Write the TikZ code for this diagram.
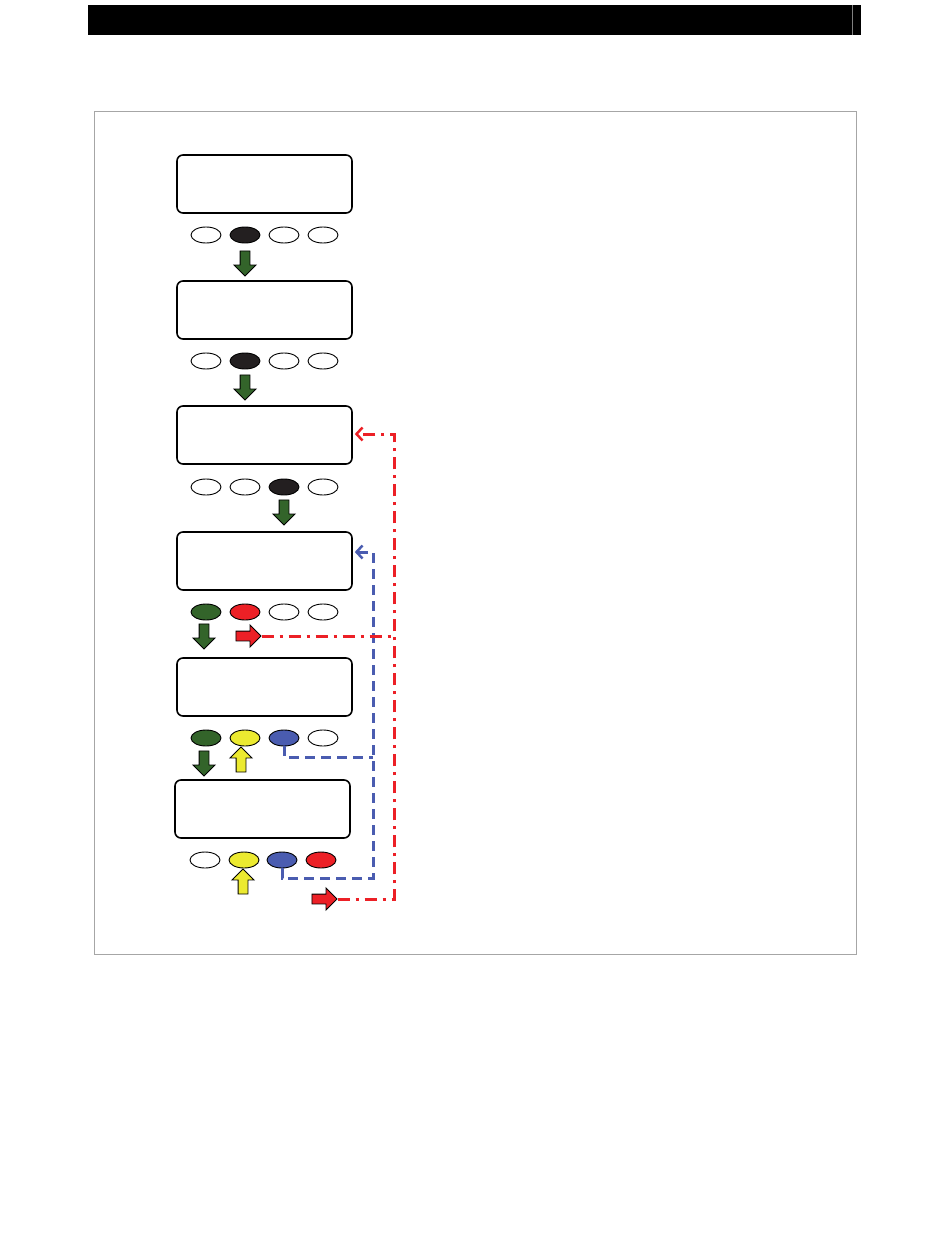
\documentclass[tikz,border=0pt]{standalone}
\usetikzlibrary{shapes.geometric, shapes.arrows, arrows.meta}

\definecolor{keygreen}{RGB}{51,100,42}
\definecolor{keyred}{RGB}{236,32,38}
\definecolor{keyyellow}{RGB}{236,234,48}
\definecolor{keyblue}{RGB}{74,92,176}
\definecolor{keyblack}{RGB}{35,31,32}

\begin{document}
\begin{tikzpicture}[x=1pt, y=-1pt,
    screen/.style={draw, rounded corners=6pt, line width=1.6pt, minimum width=175pt, minimum height=58pt},
    key/.style={ellipse, draw, line width=0.9pt, minimum width=30pt, minimum height=16pt, inner sep=0pt},
    blockdown/.style={single arrow, draw, line width=0.9pt, inner sep=4.5pt, minimum height=25pt, single arrow head extend=6pt, shape border rotate=270},
    blockup/.style={blockdown, shape border rotate=90},
    blockright/.style={blockdown, shape border rotate=0},
    bluedash/.style={draw=keyblue, line width=3pt, dash pattern=on 10pt off 6pt},
    reddash/.style={draw=keyred, line width=3pt, dash pattern=on 12pt off 6pt on 3pt off 6pt},
    tip/.style={-{Straight Barb[length=6pt, width=13pt, line width=2.5pt]}}]
    \useasboundingbox (0,0) rectangle (950,1260);

    % header bar and frame
    \fill[black] (88,5) rectangle (861,35);
    \draw[gray, line width=0.6pt] (852,5) -- (852,35);
    \draw[black!35, line width=0.8pt] (94,111) rectangle (856,954);

    % screens
    \node[screen] (s1) at (264.5,184) {};
    \node[screen] (s2) at (264.5,310) {};
    \node[screen] (s3) at (264.5,435) {};
    \node[screen] (s4) at (264.5,561) {};
    \node[screen] (s5) at (264.5,687) {};
    \node[screen] (s6) at (262.5,809) {};

    % keys
    \node[key] (k11) at (206,235) {}; \node[key, fill=keyblack] (k12) at (245,235) {};
    \node[key] (k13) at (284,235) {}; \node[key] (k14) at (323,235) {};
    \node[key] (k21) at (206,361) {}; \node[key, fill=keyblack] (k22) at (245,361) {};
    \node[key] (k23) at (284,361) {}; \node[key] (k24) at (323,361) {};
    \node[key] (k31) at (206,487) {}; \node[key] (k32) at (245,487) {};
    \node[key, fill=keyblack] (k33) at (284,487) {}; \node[key] (k34) at (323,487) {};
    \node[key, fill=keygreen] (k41) at (206,612) {}; \node[key, fill=keyred] (k42) at (245,612) {};
    \node[key] (k43) at (284,612) {}; \node[key] (k44) at (323,612) {};
    \node[key, fill=keygreen] (k51) at (206,738) {}; \node[key, fill=keyyellow] (k52) at (245,738) {};
    \node[key, fill=keyblue] (k53) at (284,738) {}; \node[key] (k54) at (323,738) {};
    \node[key] (k61) at (205,860) {}; \node[key, fill=keyyellow] (k62) at (244,860) {};
    \node[key, fill=keyblue] (k63) at (282,860) {}; \node[key, fill=keyred] (k64) at (321,860) {};

    % block arrows
    \node[blockdown, fill=keygreen] (a1) at (245,261) {};
    \node[blockdown, fill=keygreen] (a2) at (245,385) {};
    \node[blockdown, fill=keygreen] (a3) at (284,510) {};
    \node[blockdown, fill=keygreen] (a4) at (204,634) {};
    \node[blockright, fill=keyred] (r4) at (246,636) {};
    \node[blockdown, fill=keygreen] (a5) at (204,761) {};
    \node[blockup, fill=keyyellow] (y5) at (241,762) {};
    \node[blockup, fill=keyyellow] (y6) at (243,884) {};
    \node[blockright, fill=keyred] (r6) at (322,899) {};

    % return paths
    \coordinate (bluetop) at (373,552);
    \coordinate (bluebot) at (373,878);
    \coordinate (redtop) at (394,434);
    \coordinate (redbot) at (394,899);

    \draw[bluedash] (k53.south) |- (bluebot |- 0,757);
    \draw[bluedash, tip] (k63.south) |- (bluebot) -- (bluetop) -- ([xshift=2pt]s4.east |- bluetop);
    \draw[reddash] (r4.east) -- (redbot |- r4.east);
    \draw[reddash, tip] (r6.east) -- (redbot) -- (redtop) -- ([xshift=2pt]s3.east |- redtop);
\end{tikzpicture}
\end{document}
